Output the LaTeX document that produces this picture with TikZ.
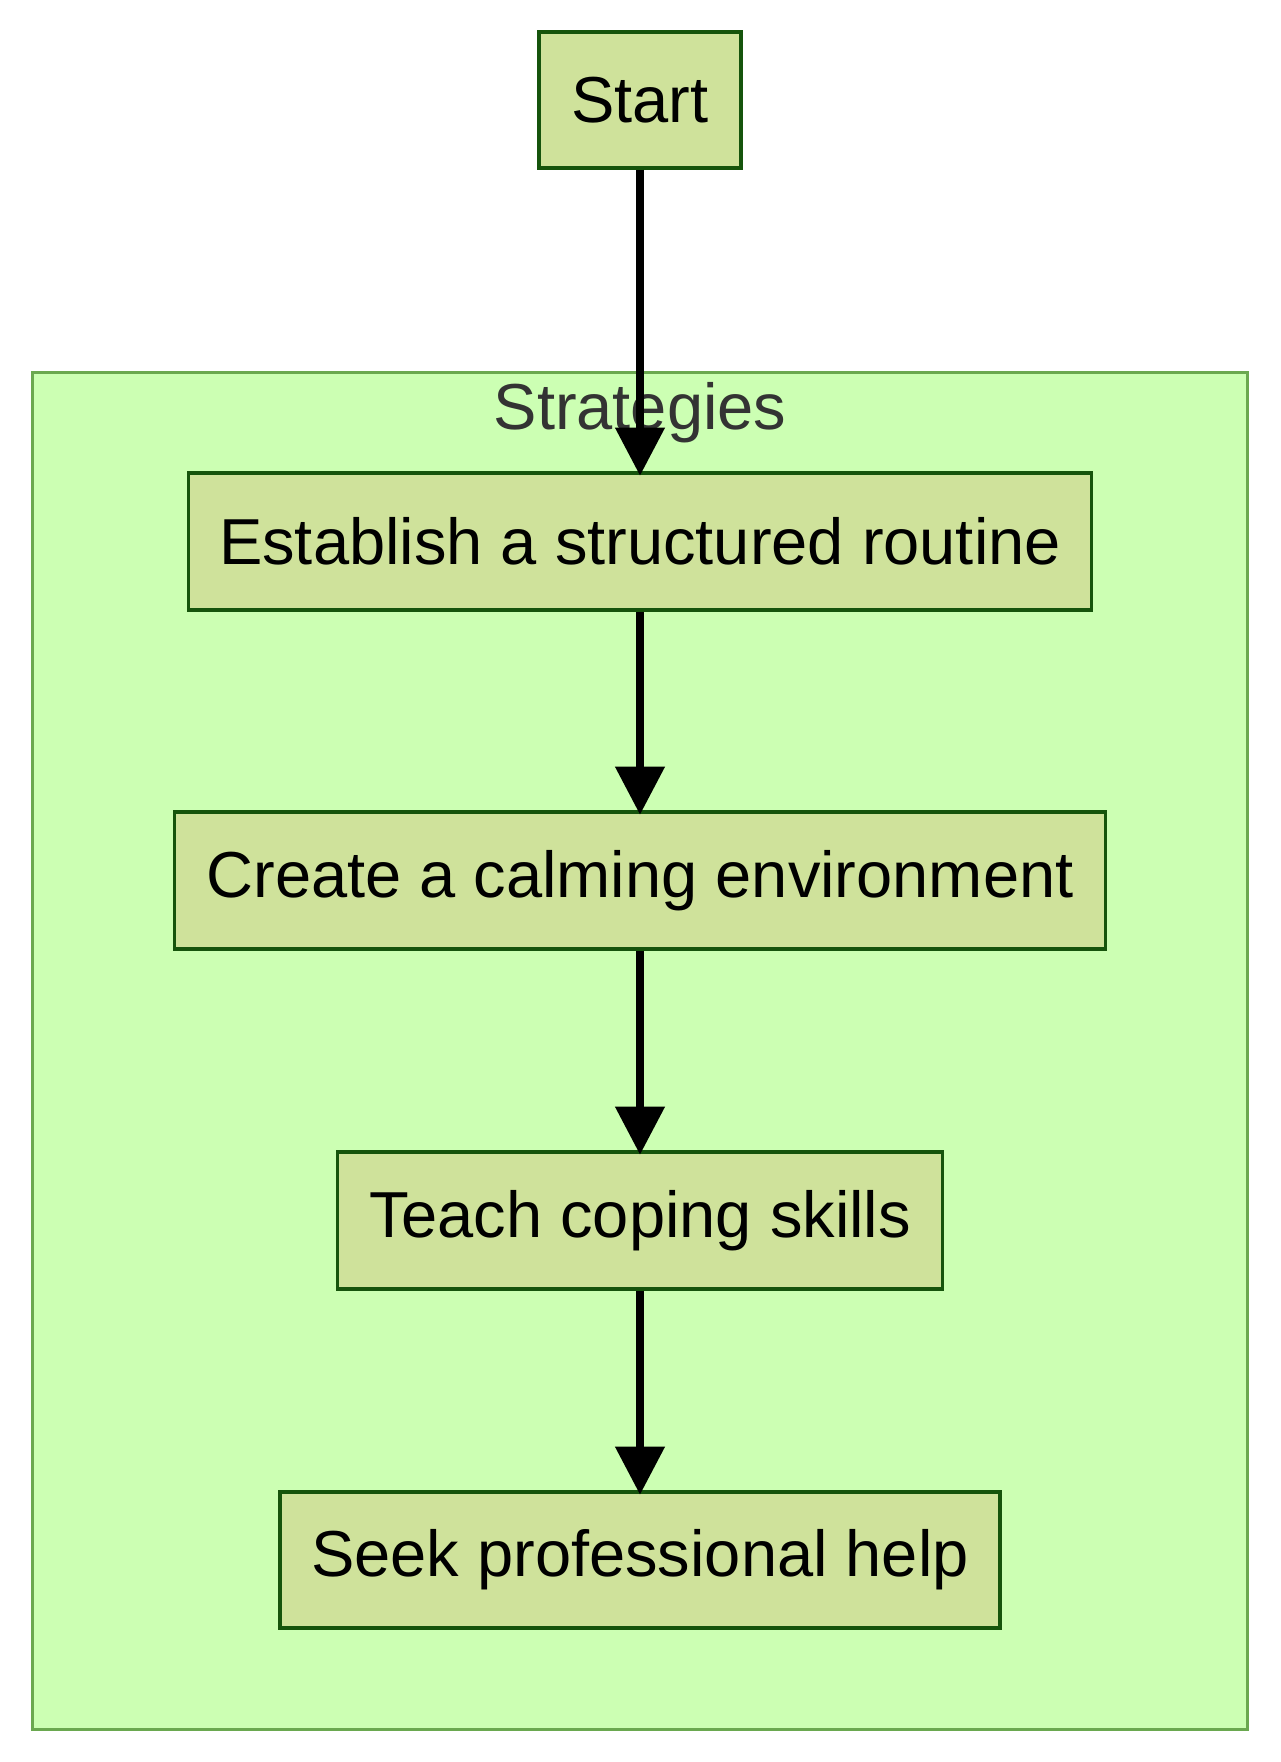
\documentclass[tikz,border=0pt]{standalone}
\usepackage{fontspec}
\setmainfont{Liberation Sans}
\usetikzlibrary{arrows.meta}
\definecolor{nodefill}{RGB}{207,226,155}
\definecolor{nodedraw}{RGB}{22,84,12}
\definecolor{clusterfill}{RGB}{204,255,179}
\definecolor{clusterdraw}{RGB}{106,168,79}
\definecolor{labeltext}{RGB}{51,51,51}
\tikzset{
  stepbox/.style={draw=nodedraw, fill=nodefill, line width=1.7pt, rectangle, inner sep=0pt,
    font=\fontsize{32.5pt}{39pt}\selectfont, text=black},
  flow/.style={line width=3.8pt, -{Triangle[length=24pt,width=24pt]}, draw=black, shorten >=-2.2pt}
}
\begin{document}
\begin{tikzpicture}[x=0.5pt,y=-0.5pt]
\useasboundingbox (0,0) rectangle (1280,1762);
\fill[white] (0,0) rectangle (1280,1762);
\draw[fill=clusterfill, draw=clusterdraw, line width=1.5pt] (32,372) rectangle (1247,1729);
\node[text=labeltext, font=\fontsize{32.5pt}{39pt}\selectfont] (lbl) at (640,413) {Strategies};
\node[stepbox, minimum width=101pt, minimum height=68pt] (start) at (640,100) {Start};
\node[stepbox, minimum width=451.5pt, minimum height=68.5pt] (est) at (640,541.5) {Establish a structured routine};
\node[stepbox, minimum width=465.5pt, minimum height=68.5pt] (cre) at (640,880.5) {Create a calming environment};
\node[stepbox, minimum width=302.5pt, minimum height=68.5pt] (tea) at (640,1220.5) {Teach coping skills};
\node[stepbox, minimum width=360pt, minimum height=68pt] (see) at (640,1560) {Seek professional help};
\draw[flow] (start.south) -- (est.north);
\draw[flow] (est.south) -- (cre.north);
\draw[flow] (cre.south) -- (tea.north);
\draw[flow] (tea.south) -- (see.north);
\end{tikzpicture}
\end{document}
